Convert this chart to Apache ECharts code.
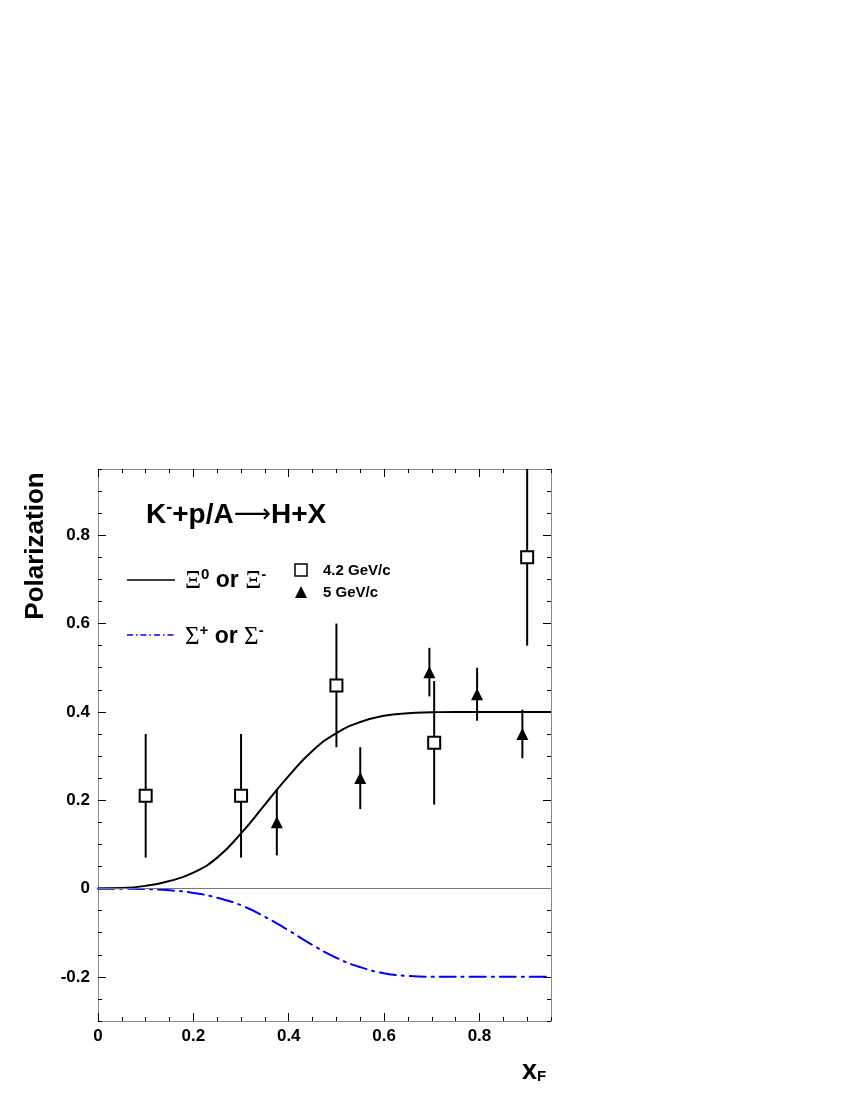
<!DOCTYPE html>
<html>
<head>
<meta charset="utf-8">
<script src="https://cdn.jsdelivr.net/npm/echarts@6/dist/echarts.min.js"></script>
<style>
html,body{margin:0;padding:0;background:#fff;}
#chart{width:850px;height:1100px;}
</style>
</head>
<body>
<div id="chart"></div>
<script>
// ---- data ----
// Open squares: 4.2 GeV/c  [x, polarization, error]
const sqX   = [0.10, 0.30, 0.50, 0.705, 0.90];
const sqY   = [0.21, 0.21, 0.46, 0.33, 0.75];
const sqErr = [0.14, 0.14, 0.14, 0.14, 0.20];
// Filled triangles: 5 GeV/c
const trX   = [0.375, 0.55, 0.695, 0.795, 0.89];
const trY   = [0.15, 0.25, 0.49, 0.44, 0.35];
const trErr = [0.075, 0.07, 0.055, 0.06, 0.055];
// Model curve: Xi0 or Xi-
const xiX = [0, 0.05, 0.10, 0.15, 0.20, 0.25, 0.30, 0.35, 0.40, 0.45, 0.50, 0.55, 0.60, 0.65, 0.70, 0.75, 0.80, 0.95];
const xiY = [0, 0.001, 0.006, 0.017, 0.036, 0.07, 0.125, 0.19, 0.255, 0.312, 0.352, 0.377, 0.391, 0.397, 0.399, 0.40, 0.40, 0.40];
// Model curve: Sigma+ or Sigma-
const sgX = [0, 0.05, 0.10, 0.15, 0.20, 0.25, 0.30, 0.35, 0.40, 0.45, 0.50, 0.55, 0.60, 0.65, 0.70, 0.80, 0.95];
const sgY = [0, -0.0005, -0.0015, -0.004, -0.01, -0.021, -0.038, -0.064, -0.095, -0.128, -0.157, -0.178, -0.192, -0.198, -0.20, -0.20, -0.20];
// Tick labels
const xTickValues = [0, 0.2, 0.4, 0.6, 0.8];
const yTickValues = [-0.2, 0, 0.2, 0.4, 0.6, 0.8];

const zip = (a, b, c) => a.map((v, i) => c ? [v, b[i], c[i]] : [v, b[i]]);

const FONT = 'Liberation Sans';
const GX0 = 98, GY0 = 469, GW = 453, GH = 552;
const frameColor = '#8a8a8a';
const fmt = v => String(+(+v).toFixed(2));

function xAx(pos, major, label) {
  return {
    type: 'value', position: pos, min: 0, max: 0.95,
    interval: major ? 0.2 : 0.05,
    axisLine: { show: major, onZero: false, lineStyle: { color: frameColor, width: 1 } },
    axisTick: major
      ? { show: true, inside: true, length: 8, lineStyle: { color: '#000', width: 1 }, customValues: xTickValues }
      : { show: true, inside: true, length: 4, lineStyle: { color: '#000', width: 1 } },
    axisLabel: label
      ? { show: true, customValues: xTickValues, formatter: fmt, fontFamily: FONT, fontWeight: 'bold', fontSize: 17, color: '#000', margin: 7 }
      : { show: false },
    splitLine: { show: false }
  };
}
function yAx(pos, major, label) {
  const o = {
    type: 'value', position: pos, min: -0.3, max: 0.95,
    axisLine: { show: major, onZero: false, lineStyle: { color: frameColor, width: 1 } },
    axisTick: major
      ? { show: true, inside: true, length: 8, lineStyle: { color: '#000', width: 1 }, customValues: yTickValues }
      : { show: true, inside: true, length: 4, lineStyle: { color: '#000', width: 1 } },
    axisLabel: label
      ? { show: true, customValues: yTickValues, formatter: fmt, fontFamily: FONT, fontWeight: 'bold', fontSize: 17, color: '#000', margin: 8 }
      : { show: false },
    splitLine: { show: false }
  };
  if (major) o.splitNumber = 6; else o.interval = 0.05;
  return o;
}

function errBar(params, api) {
  const x = api.value(0), y = api.value(1), e = api.value(2);
  const p1 = api.coord([x, y - e]);
  const p2 = api.coord([x, y + e]);
  return { type: 'line', shape: { x1: p1[0], y1: p1[1], x2: p2[0], y2: p2[1] },
           style: { stroke: '#000', lineWidth: 2 } };
}

const chart = echarts.init(document.getElementById('chart'), null, { renderer: 'canvas' });

const option = {
  backgroundColor: '#fff',
  animation: false,
  grid: { left: GX0, top: GY0, width: GW, height: GH, containLabel: false },
  xAxis: [xAx('bottom', true, true), xAx('bottom', false, false), xAx('top', true, false), xAx('top', false, false)],
  yAxis: [yAx('left', true, true), yAx('left', false, false), yAx('right', true, false), yAx('right', false, false)],
  series: [
    {
      type: 'line', name: 'xi', data: zip(xiX, xiY), showSymbol: false, smooth: 0.5,
      lineStyle: { color: '#000', width: 2 }, z: 3,
      markLine: { silent: true, symbol: 'none', label: { show: false },
        lineStyle: { color: '#777', width: 1, type: 'solid' }, data: [{ yAxis: 0 }] }
    },
    {
      type: 'line', name: 'sigma', data: zip(sgX, sgY), showSymbol: false, smooth: 0.5,
      lineStyle: { color: '#0000ff', width: 2, type: [16, 6, 2, 6], cap: 'round' }, z: 3
    },
    { type: 'custom', data: zip(sqX, sqY, sqErr), renderItem: errBar, z: 4, clip: true },
    { type: 'custom', data: zip(trX, trY, trErr), renderItem: errBar, z: 4, clip: true },
    {
      type: 'scatter', data: zip(sqX, sqY), symbol: 'rect', symbolSize: 12,
      itemStyle: { color: '#fff', borderColor: '#000', borderWidth: 2, opacity: 1 }, z: 5
    },
    {
      type: 'scatter', data: zip(trX, trY), symbol: 'triangle', symbolSize: 12,
      itemStyle: { color: '#000', opacity: 1 }, z: 5
    }
  ],
  graphic: [
    // axis titles
    { type: 'text', x: 36, y: 546, rotation: Math.PI / 2,
      style: { text: 'Polarization', fontFamily: FONT, fontWeight: 'bold', fontSize: 26, fill: '#000', align: 'center', verticalAlign: 'middle' } },
    { type: 'text', x: 522, y: 1058,
      style: { text: 'x', fontFamily: FONT, fontWeight: 'bold', fontSize: 27, fill: '#000', align: 'left', verticalAlign: 'alphabetic' } },
    { type: 'text', x: 537, y: 1069,
      style: { text: 'F', fontFamily: FONT, fontWeight: 'bold', fontSize: 15, fill: '#000', align: 'left', verticalAlign: 'alphabetic' } },
    // reaction title
    { type: 'text', x: 146, y: 515,
      style: {
        text: '{a|K}{s|-}{a|+p/A}{r|⟶}{a|H+X}', align: 'left', verticalAlign: 'middle',
        rich: {
          a: { fontFamily: FONT, fontWeight: 'bold', fontSize: 28, lineHeight: 32, fill: '#000' },
          s: { fontFamily: FONT, fontWeight: 'bold', fontSize: 18, lineHeight: 12, verticalAlign: 'top', fill: '#000' },
          r: { fontFamily: 'DejaVu Sans', fontWeight: 'normal', fontSize: 26, lineHeight: 32, fill: '#000' }
        }
      } },
    // curve legend
    { type: 'line', shape: { x1: 127, y1: 580, x2: 175, y2: 580 }, style: { stroke: '#000', lineWidth: 1.5 } },
    { type: 'line', shape: { x1: 127, y1: 635, x2: 175, y2: 635 }, style: { stroke: '#0000ff', lineWidth: 1.5, lineDash: [6, 3, 1.5, 3] } },
    { type: 'text', x: 185, y: 581,
      style: {
        text: '{g|Ξ}{s|0}{b| or }{g|Ξ}{s|-}', align: 'left', verticalAlign: 'middle',
        rich: {
          g: { fontFamily: 'Liberation Serif', fontWeight: 'normal', fontSize: 25, lineHeight: 28, fill: '#000' },
          b: { fontFamily: FONT, fontWeight: 'bold', fontSize: 23, lineHeight: 28, fill: '#000' },
          s: { fontFamily: FONT, fontWeight: 'bold', fontSize: 15, lineHeight: 14, verticalAlign: 'top', fill: '#000' }
        }
      } },
    { type: 'text', x: 185, y: 637,
      style: {
        text: '{g|Σ}{s|+}{b| or }{g|Σ}{s|-}', align: 'left', verticalAlign: 'middle',
        rich: {
          g: { fontFamily: 'Liberation Serif', fontWeight: 'normal', fontSize: 25, lineHeight: 28, fill: '#000' },
          b: { fontFamily: FONT, fontWeight: 'bold', fontSize: 23, lineHeight: 28, fill: '#000' },
          s: { fontFamily: FONT, fontWeight: 'bold', fontSize: 15, lineHeight: 14, verticalAlign: 'top', fill: '#000' }
        }
      } },
    // data legend
    { type: 'rect', shape: { x: 295, y: 564, width: 12, height: 12 }, style: { fill: '#fff', stroke: '#000', lineWidth: 1.5 } },
    { type: 'polygon', shape: { points: [[301, 586], [295, 598], [307, 598]] }, style: { fill: '#000' } },
    { type: 'text', x: 323, y: 571,
      style: { text: '4.2 GeV/c', fontFamily: FONT, fontWeight: 'bold', fontSize: 15, fill: '#000', align: 'left', verticalAlign: 'middle' } },
    { type: 'text', x: 323, y: 593,
      style: { text: '5 GeV/c', fontFamily: FONT, fontWeight: 'bold', fontSize: 15, fill: '#000', align: 'left', verticalAlign: 'middle' } }
  ]
};
chart.setOption(option);
</script>
</body>
</html>
